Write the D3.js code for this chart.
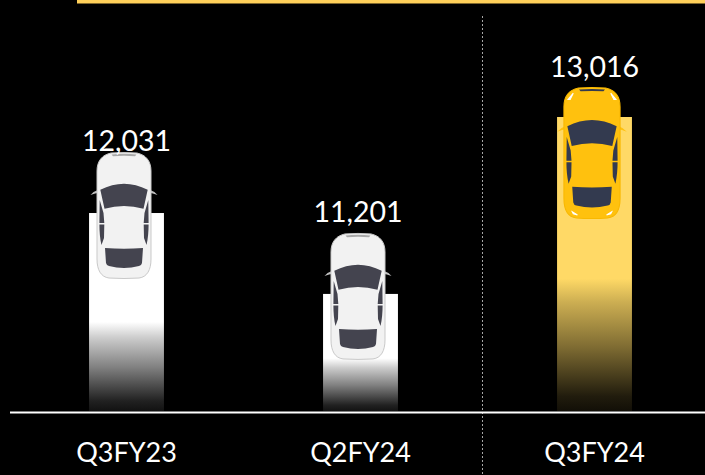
<!DOCTYPE html>
<html>
<head>
<meta charset="utf-8">
<style>
html, body { margin: 0; padding: 0; background: #000; overflow: hidden; }
text { font-family: Lato, "Open Sans", sans-serif; fill: #fff; }
</style>
<script src="https://cdn.jsdelivr.net/npm/d3@7"></script>
</head>
<body>
<div id="chart-area"></div>
<script>
// values
const quarters = ["Q3FY23", "Q2FY24", "Q3FY24"];
const volumes = [12031, 11201, 13016];
const highlighted = "Q3FY24";

const width = 705;
const height = 475;
const baseline = 411;

// car/label placement above each bar top, the source slide placed these by hand
const carLift = [60, 60, 29];
const labelLift = [62, 72, 40];
const labelShift = [0, -2.5, 0];

const x = d3.scaleBand()
    .domain(quarters)
    .range([9.5, 711.5])
    .paddingInner(0.68)
    .paddingOuter(0.34);

// axis does not start at zero in the source
const y = d3.scaleLinear().domain([10000, 13016]).range([baseline, 117]);

const data = quarters.map((q, i) => ({
    q: q, v: volumes[i], car: carLift[i], label: labelLift[i], shift: labelShift[i]
}));

const svg = d3.select("#chart-area")
    .append("svg")
    .attr("width", width)
    .attr("height", height)
    .style("display", "block");

const defs = svg.append("defs");
function fade(id, colour) {
    const toColour = d3.interpolateRgb("#000", colour);
    const g = defs.append("linearGradient")
        .attr("id", id)
        .attr("x1", 0).attr("y1", 0).attr("x2", 0).attr("y2", 1);
    [[55, 1], [63, 0.8], [78, 0.5], [95, 0.13], [100, 0.07]].forEach(s => {
        g.append("stop").attr("offset", s[0] + "%").attr("stop-color", toColour(s[1]));
    });
}
fade("fade-white", "#ffffff");
fade("fade-yellow", "#ffd966");

// top rule
svg.append("rect")
    .attr("x", 77).attr("y", 0)
    .attr("width", width - 77).attr("height", 3.5)
    .attr("fill", "#ffd05a");

// separator before the current quarter
svg.append("line")
    .attr("x1", 482.5).attr("x2", 482.5)
    .attr("y1", 16).attr("y2", height)
    .attr("stroke", "#a6a6a6")
    .attr("stroke-width", 1)
    .attr("stroke-dasharray", "2,2");

svg.selectAll("rect.bar").data(data).enter().append("rect")
    .attr("class", "bar")
    .attr("x", d => x(d.q))
    .attr("y", d => y(d.v))
    .attr("width", x.bandwidth())
    .attr("height", d => baseline - y(d.v))
    .attr("fill", d => d.q === highlighted ? "url(#fade-yellow)" : "url(#fade-white)");

// x axis, the domain line is the white baseline
const axis = svg.append("g")
    .attr("class", "x axis")
    .attr("transform", "translate(0," + (baseline + 1) + ")")
    .call(d3.axisBottom(x).tickSize(0).tickPadding(31));
axis.select(".domain").attr("stroke", "#fff").attr("stroke-width", 2);
axis.selectAll("text")
    .attr("font-size", "27px")
    .style("font-family", "Lato, 'Open Sans', sans-serif")
    .style("fill", "#fff");

// top view car, drawn around x=0 with the nose at y=0
function drawCar(sel, d) {
    const hot = d.q === highlighted;
    const body = hot ? "#ffc10e" : "#f2f2f2";
    const glass = hot ? "#333a4f" : "#44444f";
    const edge = hot ? "#f9b800" : "#c9c9c9";

    sel.append("path")
        .attr("d", "M-33.5,42 Q-30,38 -24,36 L-24,39.5 Q-29,40 -33.5,42 Z M33.5,42 Q30,38 24,36 L24,39.5 Q29,40 33.5,42 Z")
        .attr("fill", hot ? "#ffc10e" : "#bfbfbf");
    sel.append("path")
        .attr("d", "M-13,0 Q0,-1 13,0 C22,2 27,8 27,18 L27,106 C27,117 23,124 15,125 Q0,126 -15,125 C-23,124 -27,117 -27,106 L-27,18 C-27,8 -22,2 -13,0 Z")
        .attr("fill", body)
        .attr("stroke", edge)
        .attr("stroke-width", 1);
    // roof strip at the nose
    sel.append("path")
        .attr("d", "M-12.5,1.5 Q0,0.2 12.5,1.5 L11,3.2 Q0,2.4 -11,3.2 Z")
        .attr("fill", hot ? "#333a4f" : "#a8a8a8");
    // windscreen, rear screen, side windows
    sel.append("path")
        .attr("d", "M-23.7,36.7 Q0,24.7 23.7,36.7 L19.5,55.7 Q0,50.5 -19.5,55.7 Z")
        .attr("fill", glass);
    sel.append("path")
        .attr("d", "M-19,95 Q0,96.5 19,95 L18,110 Q17.5,112.5 15,113 Q0,117 -15,113 Q-17.5,112.5 -18,110 Z")
        .attr("fill", glass);
    sel.append("path")
        .attr("d", "M-24.3,47 L-20.5,60 L-19.7,70 L-24.6,70 Z M24.3,47 L20.5,60 L19.7,70 L24.6,70 Z M-24.6,71.5 L-19.7,71.5 L-20,85 L-22.5,92 C-24,86 -24.6,78 -24.6,71.5 Z M24.6,71.5 L19.7,71.5 L20,85 L22.5,92 C24,86 24.6,78 24.6,71.5 Z")
        .attr("fill", glass);
    if (hot) {
        // headlight glints
        sel.append("path")
            .attr("d", "M-23,11 L-18,5 L-21,11 Z M23,11 L18,5 L21,11 Z M-19,119 L-14,122 L-18,121 Z M19,119 L14,122 L18,121 Z")
            .attr("fill", "#fff")
            .attr("stroke", "#fff")
            .attr("stroke-width", 1);
    }
}

svg.selectAll("g.car").data(data).enter().append("g")
    .attr("class", "car")
    .attr("transform", d => {
        const cx = x(d.q) + x.bandwidth() / 2 - 2.5;
        const k = d.q === highlighted ? 1.04 : 1;
        return "translate(" + cx + "," + (y(d.v) - d.car) + ") scale(" + k + ")";
    })
    .each(function (d) { drawCar(d3.select(this), d); });

svg.selectAll("text.value").data(data).enter().append("text")
    .attr("class", "value")
    .attr("x", d => x(d.q) + x.bandwidth() / 2 + d.shift)
    .attr("y", d => y(d.v) - d.label)
    .attr("text-anchor", "middle")
    .attr("font-size", "28.5px")
    .text(d => d3.format(",")(d.v));
</script>
</body>
</html>
